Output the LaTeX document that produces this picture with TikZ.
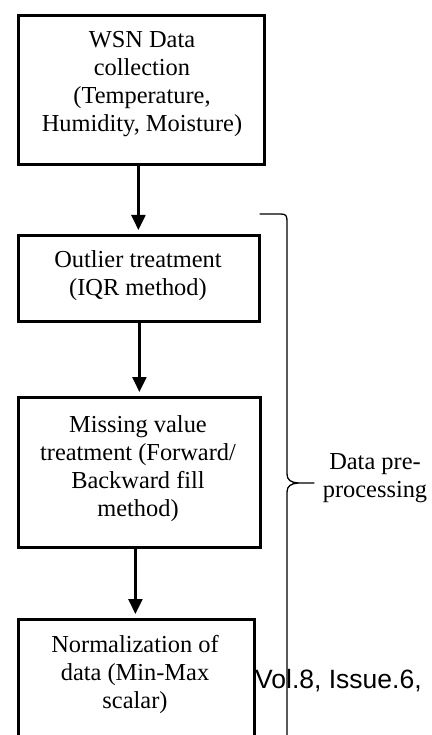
\documentclass[tikz,border=0pt]{standalone}
\usepackage{fontspec}
\setmainfont{Liberation Serif}
\newfontfamily\arialfont{Liberation Sans}
\usetikzlibrary{arrows.meta}

\tikzset{
  stagebox/.style={draw=black, line width=2.8pt, fill=none, inner sep=0pt, anchor=north west},
  stagetext/.style={inner sep=0pt, align=center, anchor=north,
                    font=\fontsize{24.4}{28}\selectfont},
  flowarrow/.style={line width=2.4pt, -{Triangle[width=14pt,length=15pt]}, shorten >=4pt},
  bracepath/.style={line width=1.3pt, line cap=round}
}

\begin{document}
\begin{tikzpicture}[x=1pt, y=-1pt]
  \useasboundingbox (0,0) rectangle (431,735);
  \clip (0,0) rectangle (431,735);
  \fill[white] (0,0) rectangle (431,735);

  % processing stages
  \node[stagebox, minimum width=246pt, minimum height=149pt] (b1) at (17,14) {};
  \node[stagebox, minimum width=241pt, minimum height=86pt]  (b2) at (17,234) {};
  \node[stagebox, minimum width=242pt, minimum height=150pt] (b3) at (17,396) {};
  \node[stagebox, minimum width=236pt, minimum height=150pt] (b4) at (17,618) {};

  \node[stagetext] (t1) at (142,31)    {WSN Data\\collection\\(Temperature,\\Humidity, Moisture)};
  \node[stagetext] (t2) at (138,250.6) {Outlier treatment\\(IQR method)};
  \node[stagetext] (t3) at (138,415.6) {Missing value\\treatment (Forward/\\Backward fill\\method)};
  \node[stagetext] (t4) at (135,635.6) {Normalization of\\data (Min-Max\\scalar)};

  % flow between stages
  \draw[flowarrow] ([xshift=-3pt]b1.south) -- ([xshift=-3pt]b1.south |- b2.north);
  \draw[flowarrow] ([xshift=0.5pt]b2.south) -- ([xshift=0.5pt]b2.south |- b3.north);
  \draw[flowarrow] ([xshift=-4pt]b3.south) -- ([xshift=-4pt]b3.south |- b4.north);

  % brace grouping the pre-processing stages
  \coordinate (btip) at (314,483);
  \draw[bracepath] (260,214) -- (281,214)
      .. controls (286,214) and (287,216) .. (287,221)
      -- (287,474)
      .. controls (287,480) and (291,482.5) .. (298,483)
      -- (btip);
  \draw[bracepath] (298,483)
      .. controls (291,483.5) and (287,486) .. (287,492)
      -- (287,745);
  \node[stagetext] (lbl) at (375,453) {Data pre-\\processing};

  % running header text
  \node[inner sep=0pt, anchor=base west, font=\arialfont\fontsize{26.5}{30}\selectfont]
       (hdr) at (255,688) {Vol.8, Issue.6,};
\end{tikzpicture}
\end{document}
